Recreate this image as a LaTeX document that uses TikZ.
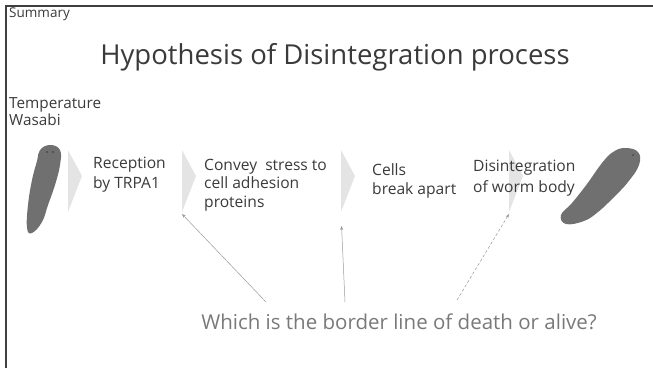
\documentclass[tikz,border=0pt]{standalone}
\usepackage{fontspec}
\setmainfont{Open Sans}
\usepackage{xcolor}
\usetikzlibrary{arrows.meta}

\definecolor{inkgray}{HTML}{3A3A3A}
\definecolor{wormgray}{HTML}{707070}
\definecolor{chevgray}{HTML}{E4E4E4}

% one light step marker, its lower tip saved as #2
\newcommand\chevron[2]{%
  \fill[chevgray] (#1,150) -- (#1+14,176) -- (#1,212) -- cycle;
  \coordinate (#2) at (#1,214);
}

\begin{document}
\begin{tikzpicture}[x=1pt, y=-1pt,
    every node/.style={text=inkgray, inner sep=0pt, anchor=west, align=left},
    steptext/.style={font=\fontsize{15.6}{18.5}\selectfont},
    pointer/.style={draw=gray!80, line width=0.5pt, -{Stealth[length=4pt,width=3pt]}}]
  \useasboundingbox (0,0) rectangle (653,368);

  % frame: left and top rules only
  \draw[line width=1.4pt, black!75] (6,368) -- (6,6) -- (653,6);

  \node[font=\fontsize{13.5}{14}\selectfont] (summary) at (9,14) {Summary};
  \node[anchor=center, font=\fontsize{27.5}{30}\selectfont] (title) at (335,57) {Hypothesis of Disintegration process};
  \node[font=\fontsize{15.3}{17}\selectfont] (stim) at (9,111.5) {Temperature\\Wasabi};

  % worm before
  \fill[wormgray] plot[smooth cycle, tension=0.7] coordinates {
    (50,145) (60,150) (60,165) (55,185) (48,205) (42,222) (32,233)
    (27,228) (28,205) (32,180) (37,161) (40,150)};
  \fill[black!70] (47,152) circle (1.2) (53,152) circle (1.2);

  % step markers
  \chevron{68}{c1}
  \chevron{182}{c2}
  \chevron{341}{c3}
  \chevron{509}{c4}

  \node[steptext, font=\fontsize{15.6}{20}\selectfont] (rcpt) at (93,175) {Reception\\by TRPA1};
  \node[steptext] (convey) at (204,185) {Convey~~stress to\\cell adhesion\\proteins};
  \node[steptext] (cells) at (372,181) {Cells\\break apart};
  \node[steptext, font=\fontsize{15.6}{20.5}\selectfont] (disint) at (473,178) {Disintegration\\of worm body};

  % worm after
  \fill[wormgray] plot[smooth cycle, tension=0.7] coordinates {
    (625,148) (638,152) (639,165) (628,182) (613,198) (598,212) (584,221)
    (566,224) (561,215) (572,203) (587,184) (602,163) (613,152)};
  \fill[black!70] (633,155) circle (1.1);

  \node[anchor=center, text=gray!95!black, font=\fontsize{20.5}{24}\selectfont] (question) at (399,322)
    {Which is the border line of death or alive?};

  \coordinate (q1) at (266,302);
  \coordinate (q2) at (345,302);
  \coordinate (q3) at (457,300);
  \draw[pointer] (q1) -- (c2);
  \draw[pointer, shorten >=12pt] (q2) -- (c3);
  \draw[pointer, densely dashed] (q3) -- (c4);
\end{tikzpicture}
\end{document}
